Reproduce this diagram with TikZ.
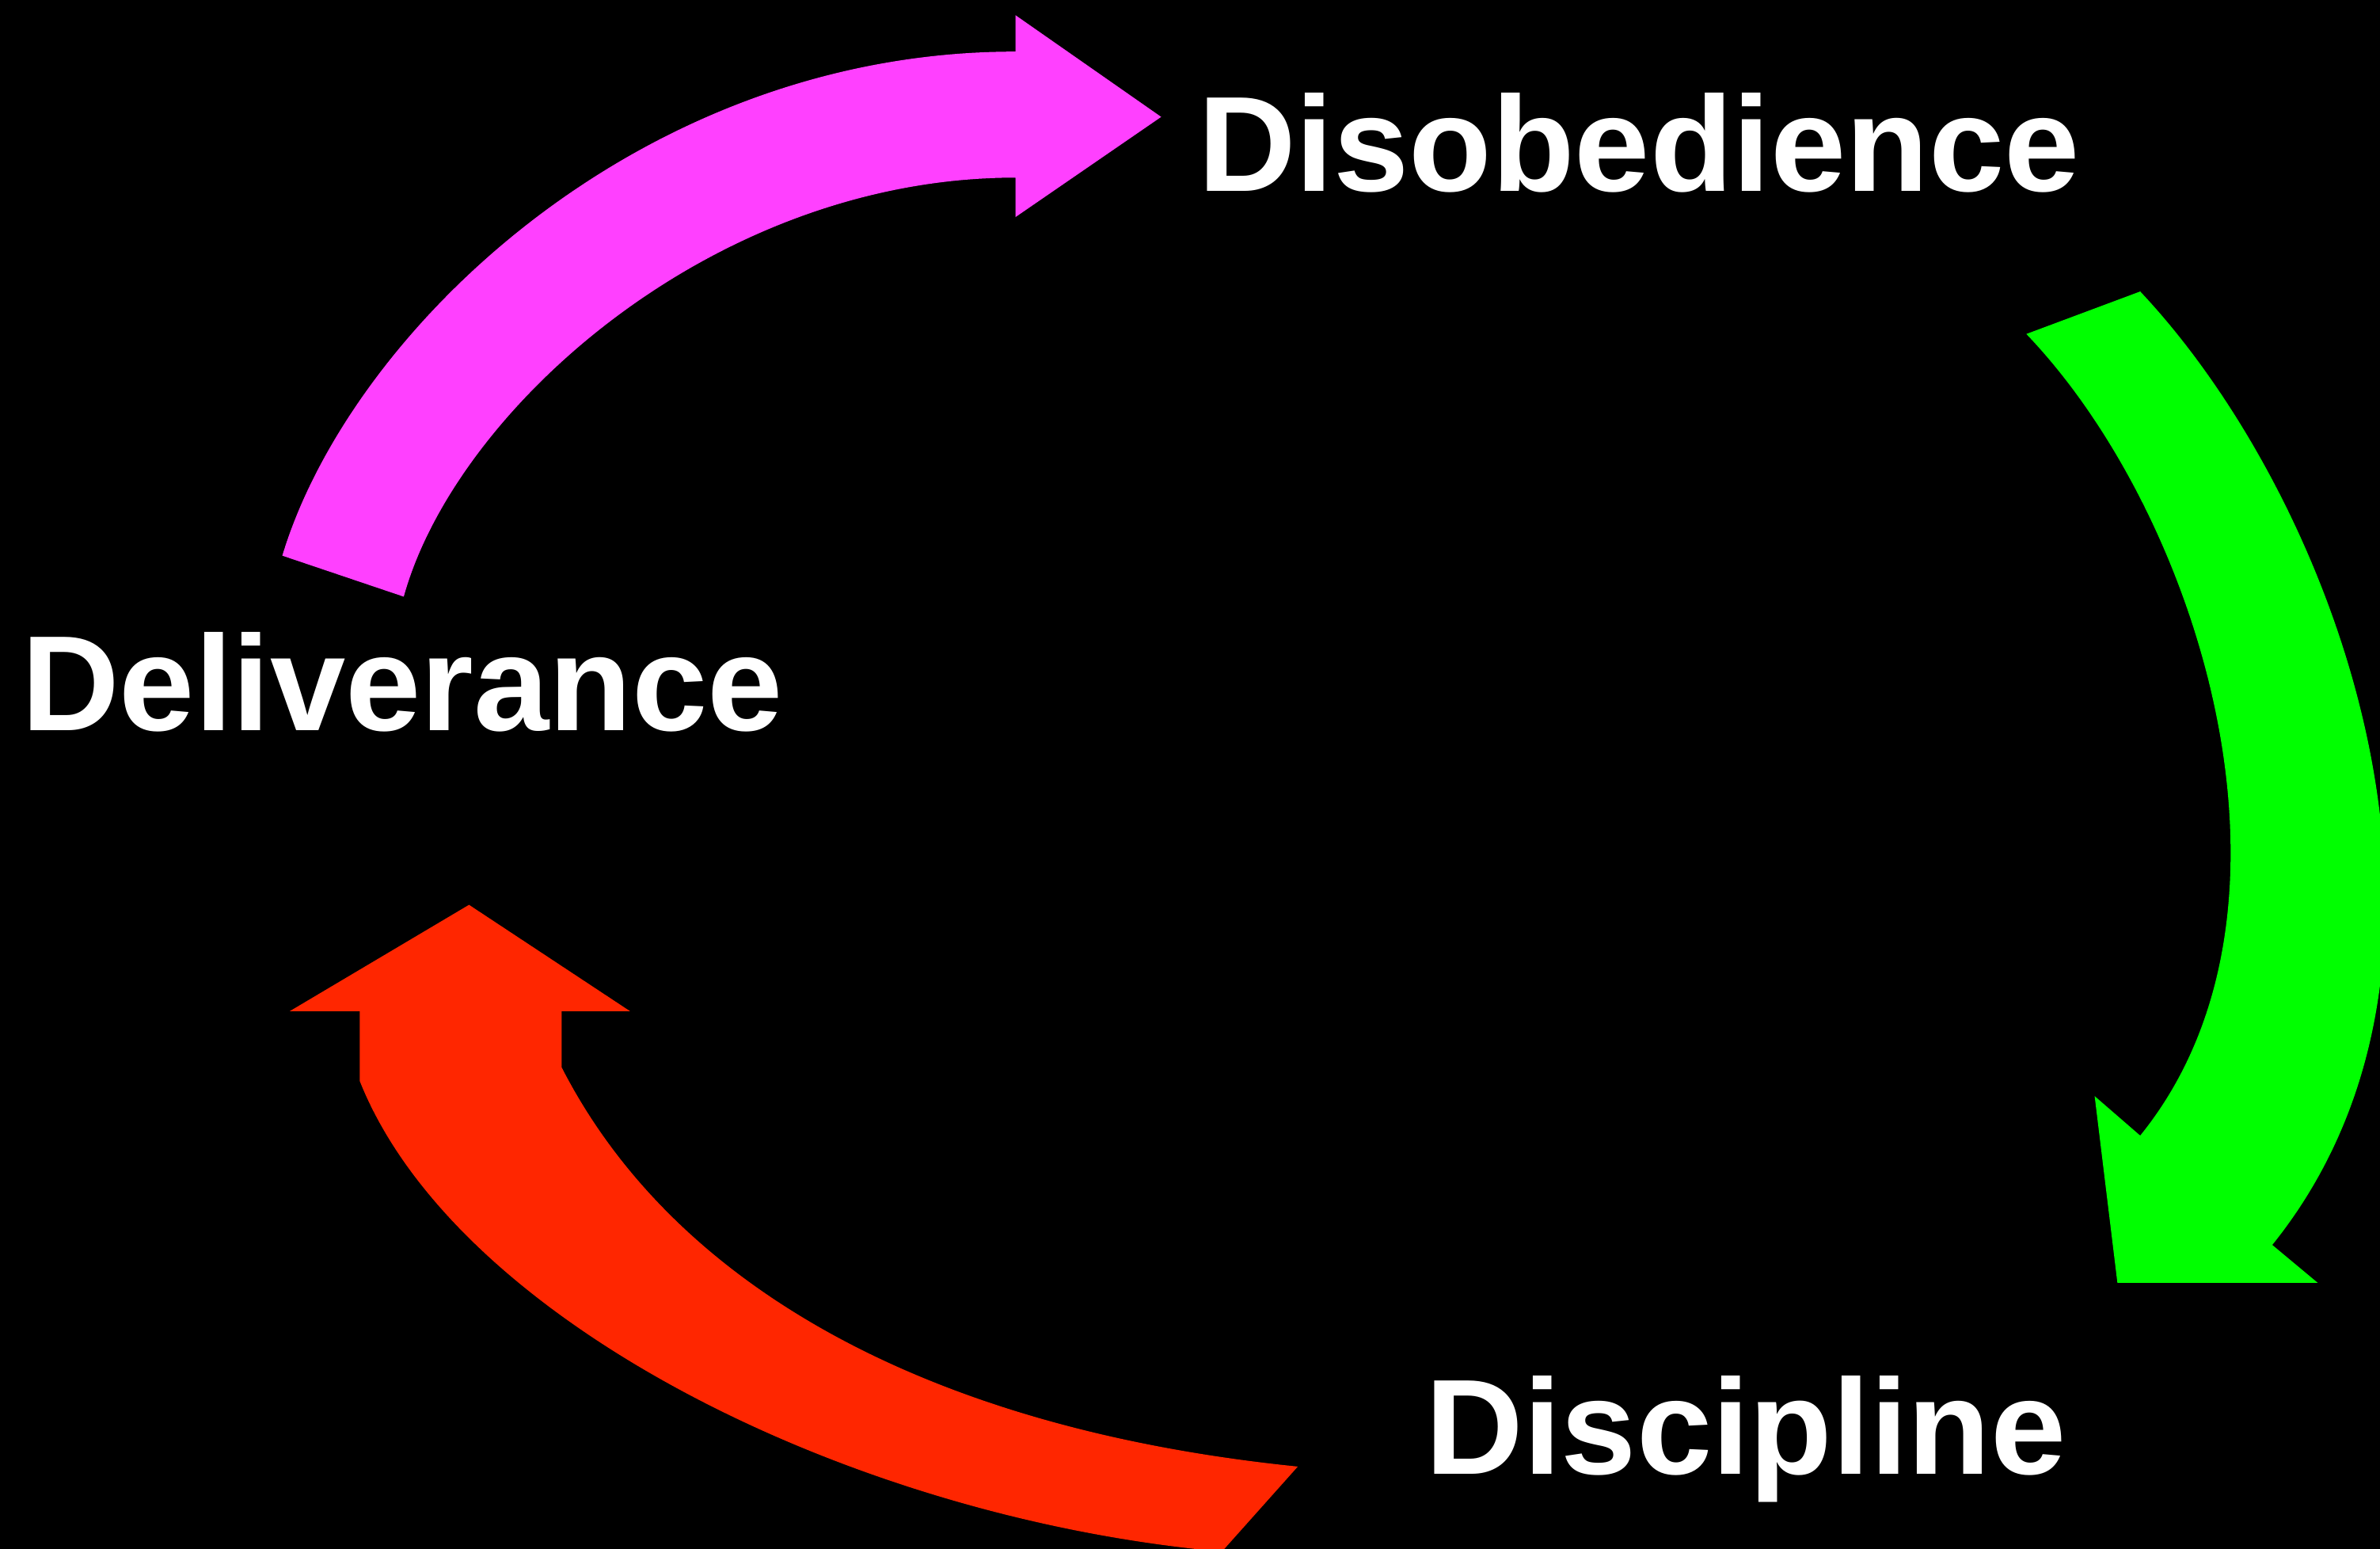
\documentclass[tikz,border=0pt]{standalone}
\usepackage{fontspec}
\setmainfont{Liberation Sans}
\usepackage{tikz}
\usepackage{xcolor}

\tikzset{
  cycle label/.style={anchor=base west, inner sep=0pt, text=white, font=\fontsize{67}{80}\selectfont\bfseries}
}

\begin{document}
\begin{tikzpicture}[x=0.75pt,y=0.75pt,yscale=-1,xscale=1]
%set diagram: 1568 wide, 1020 high, black background
\useasboundingbox (0,0) rectangle (1568,1020);
\fill [black] (-5,-5) rectangle (1573,1025);

\begin{scope}
\clip (0,0) rectangle (1568,1020);
%Shape: Curved Arrow [id:magenta] 
\fill [color={rgb, 255:red, 255; green, 64; blue, 255 }] (186,366) .. controls (230,220) and (420,34) .. (669,34) -- (669,10) -- (765,77) -- (669,143) -- (669,117) .. controls (470,117) and (300,270) .. (266,393) -- cycle ;
%Shape: Curved Arrow [id:green] 
\fill [color={rgb, 255:red, 0; green, 255; blue, 0 }] (1335,220) -- (1410,192) .. controls (1540,330) and (1650,630) .. (1497,820) -- (1527,845) -- (1395,845) -- (1380,722) -- (1410,748) .. controls (1530,600) and (1450,340) .. (1335,220) -- cycle ;
%Shape: Curved Arrow [id:red] 
\fill [color={rgb, 255:red, 255; green, 38; blue, 0 }] (237,712) -- (237,666) -- (191,666) -- (309,596) -- (415,666) -- (370,666) -- (370,703) .. controls (440,840) and (600,940) .. (855,966) -- (805,1022) .. controls (560,1000) and (300,870) .. (237,712) -- cycle ;
\end{scope}

% Text Node
\node (disobedience) [cycle label] at (789,126) {Disobedience};
% Text Node
\node (deliverance) [cycle label] at (14,481) {Deliverance};
% Text Node
\node (discipline) [cycle label] at (939,971) {Discipline};
\end{tikzpicture}
\end{document}
